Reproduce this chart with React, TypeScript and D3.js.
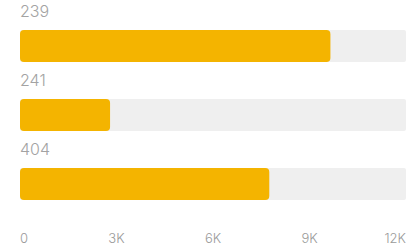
import React from 'react';
import * as d3 from 'd3';

// data
const categories = ['239', '241', '404'];
const values = [9650, 2800, 7750];
const maxValue = 12000;
const tickValues = [0, 3000, 6000, 9000, 12000];

const W = 419;
const H = 249;

const App = () => {
  const x = d3.scaleLinear().domain([0, maxValue]).range([20, 406]);
  const y = d3.scaleBand().domain(categories).range([30, 200]).paddingInner(0.536);

  const fmt = (v: number) => (v === 0 ? '0' : `${v / 1000}K`);

  return (
    <svg
      width={W}
      height={H}
      style={{ position: 'absolute', left: 0, top: 0, background: '#fff' }}
      fontFamily="Inter, 'Open Sans', sans-serif"
    >
      {categories.map((c, i) => {
        const top = y(c) as number;
        return (
          <g key={c}>
            <text x={x(0)} y={top - 13} fontSize={16} fill="#a3a3a3" fontWeight={300}>
              {c}
            </text>
            <rect
              x={x(0)}
              y={top}
              width={x(maxValue) - x(0)}
              height={y.bandwidth()}
              fill="#efefef"
              rx={2}
            />
            <rect
              x={x(0)}
              y={top}
              width={x(values[i]) - x(0)}
              height={y.bandwidth()}
              fill="#f4b400"
              rx={4}
            />
          </g>
        );
      })}
      {tickValues.map((t, i) => (
        <text
          key={t}
          x={x(t)}
          y={243}
          fontSize={13}
          fontWeight={300}
          fill="#9a9a9a"
          textAnchor={i === 0 ? 'start' : i === tickValues.length - 1 ? 'end' : 'middle'}
        >
          {fmt(t)}
        </text>
      ))}
    </svg>
  );
};

export default App;
